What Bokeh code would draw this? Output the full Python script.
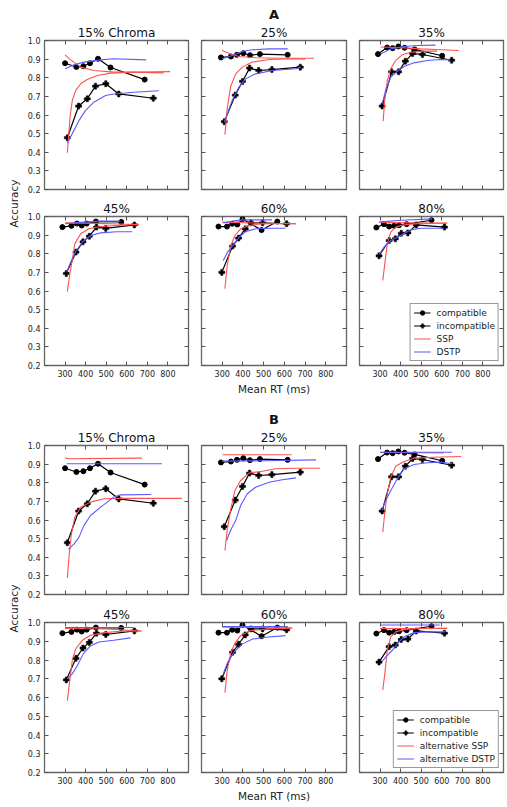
import math
from bokeh.plotting import figure
from bokeh.layouts import row, column
from bokeh.models import (Range1d, FixedTicker, LinearAxis, Title, Legend,
                          LegendItem, CustomJSTickFormatter, PrintfTickFormatter)
from bokeh.core.properties import value
from bokeh.embed import file_html
from bokeh.resources import INLINE

conditions = ["15% Chroma", "25%", "35%", "45%", "60%", "80%"]
x_ticks = [300, 400, 500, 600, 700, 800]
y_ticks = [0.2, 0.3, 0.4, 0.5, 0.6, 0.7, 0.8, 0.9, 1.0]

# observed data (same in A and B)
comp_rt = [[300, 355, 389, 421, 460, 521, 687],
           [294, 342, 371, 402, 434, 482, 616],
           [290, 334, 361, 389, 419, 468, 602],
           [287, 331, 358, 381, 405, 450, 573],
           [282, 323, 348, 373, 398, 490, 566],
           [282, 319, 344, 368, 392, 429, 550]]
comp_acc = [[0.878, 0.858, 0.862, 0.878, 0.902, 0.855, 0.790],
            [0.909, 0.914, 0.923, 0.932, 0.921, 0.927, 0.923],
            [0.927, 0.962, 0.959, 0.968, 0.961, 0.952, 0.918],
            [0.943, 0.950, 0.962, 0.952, 0.962, 0.973, 0.971],
            [0.946, 0.946, 0.961, 0.957, 0.986, 0.927, 0.973],
            [0.941, 0.959, 0.946, 0.950, 0.953, 0.959, 0.980]]
inc_rt = [[311, 366, 408, 448, 498, 561, 729],
          [310, 363, 398, 432, 476, 540, 677],
          [310, 356, 390, 423, 458, 506, 648],
          [306, 353, 387, 418, 453, 498, 637],
          [298, 350, 379, 411, 439, 495, 611],
          [295, 344, 374, 403, 435, 476, 613]]
inc_acc = [[0.478, 0.648, 0.687, 0.755, 0.768, 0.713, 0.690],
           [0.564, 0.707, 0.780, 0.852, 0.839, 0.844, 0.857],
           [0.648, 0.832, 0.832, 0.889, 0.930, 0.925, 0.894],
           [0.694, 0.809, 0.864, 0.894, 0.943, 0.936, 0.955],
           [0.700, 0.841, 0.884, 0.934, 0.966, 0.966, 0.961],
           [0.789, 0.871, 0.880, 0.910, 0.912, 0.955, 0.943]]

# panel A models
ssp_comp_rt = [[300, 327, 376, 440, 537, 666, 811],
               [300, 340, 381, 461, 574, 743],
               [303, 400, 500, 600, 682],
               [300, 450, 600, 658],
               [300, 450, 656],
               [300, 450, 626]]
ssp_comp_acc = [[0.923, 0.896, 0.857, 0.839, 0.830, 0.830, 0.833],
                [0.946, 0.928, 0.914, 0.907, 0.905, 0.905],
                [0.965, 0.962, 0.955, 0.950, 0.946],
                [0.966, 0.963, 0.958, 0.955],
                [0.970, 0.965, 0.961],
                [0.968, 0.966, 0.965]]
ssp_inc_rt = [[311, 316, 324, 335, 352, 376, 408, 456, 521, 634, 779],
              [313, 324, 340, 365, 397, 445, 526, 655, 700],
              [315, 324, 335, 352, 376, 408, 448, 513, 577],
              [311, 323, 335, 347, 376, 416, 473, 569, 658],
              [313, 324, 340, 361, 389, 429, 495, 656],
              [313, 323, 335, 352, 376, 416, 481, 626]]
ssp_inc_acc = [[0.397, 0.463, 0.589, 0.678, 0.732, 0.768, 0.791, 0.812, 0.825, 0.830, 0.826],
               [0.494, 0.633, 0.750, 0.821, 0.857, 0.884, 0.898, 0.902, 0.900],
               [0.567, 0.696, 0.785, 0.848, 0.893, 0.923, 0.937, 0.943, 0.943],
               [0.597, 0.692, 0.764, 0.853, 0.907, 0.934, 0.946, 0.953, 0.957],
               [0.612, 0.737, 0.835, 0.898, 0.934, 0.952, 0.961, 0.961],
               [0.657, 0.746, 0.853, 0.916, 0.943, 0.955, 0.961, 0.964]]
dstp_comp_rt = [[300, 344, 392, 473, 537, 694],
                [300, 348, 397, 445, 526, 616],
                [303, 352, 416, 481, 569],
                [300, 392, 473, 569],
                [305, 350, 400, 540],
                [295, 400, 553]]
dstp_comp_acc = [[0.848, 0.870, 0.884, 0.896, 0.902, 0.896],
                 [0.902, 0.920, 0.941, 0.950, 0.955, 0.955],
                 [0.928, 0.955, 0.968, 0.973, 0.975],
                 [0.961, 0.970, 0.975, 0.975],
                 [0.965, 0.975, 0.982, 0.982],
                 [0.970, 0.980, 0.987]]
dstp_inc_rt = [[311, 335, 368, 400, 440, 497, 537, 634, 755],
               [310, 348, 381, 413, 461, 542, 655, 680],
               [310, 327, 352, 384, 416, 465, 529, 594, 642],
               [308, 327, 352, 384, 424, 473, 553, 626],
               [305, 326, 350, 382, 415, 463, 544, 605],
               [295, 319, 352, 400, 448, 497, 610]]
dstp_inc_acc = [[0.450, 0.500, 0.571, 0.625, 0.669, 0.705, 0.713, 0.722, 0.730],
                [0.562, 0.678, 0.750, 0.794, 0.821, 0.839, 0.848, 0.857],
                [0.660, 0.732, 0.803, 0.835, 0.860, 0.880, 0.893, 0.898, 0.896],
                [0.701, 0.755, 0.812, 0.862, 0.898, 0.912, 0.918, 0.918],
                [0.764, 0.809, 0.844, 0.889, 0.920, 0.934, 0.937, 0.937],
                [0.796, 0.835, 0.871, 0.898, 0.928, 0.937, 0.937]]

# panel B alternative models
alt_ssp_comp_rt = [[300, 319, 674], [302, 635], [300, 610], [300, 500, 671], [300, 632], [300, 626]]
alt_ssp_comp_acc = [[0.934, 0.929, 0.932], [0.950, 0.950], [0.964, 0.960],
                    [0.968, 0.965, 0.955], [0.975, 0.972], [0.968, 0.968]]
alt_ssp_inc_rt = [[311, 319, 331, 347, 376, 424, 489, 569, 868],
                  [313, 324, 340, 361, 389, 429, 494, 558, 655, 772],
                  [313, 324, 335, 352, 376, 416, 465, 561, 694],
                  [311, 323, 335, 352, 384, 424, 489, 569, 671],
                  [313, 324, 340, 361, 389, 437, 526, 639],
                  [313, 323, 335, 352, 376, 416, 481, 626]]
alt_ssp_inc_acc = [[0.290, 0.400, 0.526, 0.615, 0.669, 0.696, 0.714, 0.716, 0.716],
                   [0.436, 0.544, 0.651, 0.758, 0.812, 0.852, 0.862, 0.875, 0.878, 0.878],
                   [0.535, 0.651, 0.741, 0.830, 0.889, 0.914, 0.932, 0.937, 0.941],
                   [0.583, 0.690, 0.798, 0.860, 0.905, 0.932, 0.946, 0.953, 0.955],
                   [0.626, 0.742, 0.832, 0.889, 0.930, 0.957, 0.966, 0.970],
                   [0.640, 0.726, 0.851, 0.923, 0.950, 0.962, 0.968, 0.971]]
alt_dstp_comp_rt = [[308, 771], [300, 500, 753], [300, 650], [300, 634], [300, 606], [300, 590]]
alt_dstp_comp_acc = [[0.902, 0.902], [0.916, 0.918, 0.923], [0.964, 0.964],
                     [0.973, 0.973], [0.979, 0.979], [0.987, 0.987]]
alt_dstp_inc_rt = [[316, 344, 368, 392, 424, 473, 537, 569, 719],
                   [321, 340, 365, 389, 421, 461, 526, 590, 656],
                   [308, 327, 352, 384, 416, 465, 529, 594, 650],
                   [311, 335, 360, 389, 421, 465, 537, 618],
                   [305, 326, 356, 398, 447, 511, 605],
                   [311, 335, 360, 384, 416, 465, 529, 618]]
alt_dstp_inc_acc = [[0.442, 0.472, 0.508, 0.571, 0.624, 0.669, 0.723, 0.735, 0.737],
                    [0.490, 0.544, 0.597, 0.678, 0.741, 0.776, 0.803, 0.816, 0.826],
                    [0.651, 0.705, 0.758, 0.821, 0.875, 0.898, 0.907, 0.911, 0.902],
                    [0.700, 0.726, 0.771, 0.834, 0.873, 0.896, 0.905, 0.918],
                    [0.725, 0.787, 0.841, 0.886, 0.912, 0.921, 0.930],
                    [0.794, 0.825, 0.852, 0.887, 0.923, 0.946, 0.950, 0.950]]

panel_labels = ["A", "B"]
legend_labels = [["compatible", "incompatible", "SSP", "DSTP"],
                 ["compatible", "incompatible", "alternative SSP", "alternative DSTP"]]

FONT = "DejaVu Sans"
GRAY = "#555555"
RED = "#ff5050"
BLUE = "#5a5aff"


def add_axis(p, side, labels, axis_label=None):
    horiz = side in ("below", "above")
    ticks = x_ticks if horiz else y_ticks
    ax = LinearAxis(ticker=FixedTicker(ticks=ticks))
    ax.axis_line_color = None
    ax.major_tick_in = 4
    ax.major_tick_out = 0
    ax.minor_tick_line_color = None
    ax.major_tick_line_color = GRAY
    ax.major_label_text_font = FONT
    ax.major_label_text_color = "#222222"
    if labels:
        ax.formatter = PrintfTickFormatter(format="%d" if horiz else "%.1f")
        ax.major_label_text_font_size = "8px"
        ax.major_label_standoff = 4
    else:
        ax.formatter = CustomJSTickFormatter(code="return ''")
        ax.major_label_text_font_size = "0px"
        ax.major_label_standoff = 0
    if axis_label:
        ax.axis_label = axis_label
        ax.axis_label_text_font = FONT
        ax.axis_label_text_font_size = "10.5px"
        ax.axis_label_text_font_style = "normal"
        ax.axis_label_text_color = "#222222"
        ax.axis_label_standoff = 3
    p.add_layout(ax, side)


def make_fig(panel, r, col):
    ci = r * 3 + col
    mbl = [22, 7, 7][col]
    mbr = [6, 6, 4][col]
    fw = [144, 145, 144][col]
    if panel == 0:
        mbt, fh, mbb = (40, 149, 5) if r == 0 else (22, 149, 35)
    else:
        mbt, fh, mbb = (45, 149, 5) if r == 0 else (23, 150, 35)
    p = figure(width=mbl + fw + mbr, height=mbt + fh + mbb,
               min_border_left=mbl, min_border_right=mbr,
               min_border_top=mbt, min_border_bottom=mbb,
               x_range=Range1d(200, 900), y_range=Range1d(0.2, 1.0),
               x_axis_type=None, y_axis_type=None, title=None,
               output_backend="svg", toolbar_location=None)
    p.outline_line_color = "#666666"
    p.outline_line_width = 1.3
    p.background_fill_color = "white"
    p.border_fill_color = "white"

    add_axis(p, "below", r == 1, "Mean RT (ms)" if (r == 1 and col == 1) else None)
    add_axis(p, "left", col == 0)
    add_axis(p, "above", False)
    add_axis(p, "right", False)

    p.add_layout(Title(text=conditions[ci], align="center", text_font=FONT,
                       text_font_size="12px", text_font_style="normal",
                       text_color="#111111", standoff=2), "above")
    if r == 0 and col == 1:
        p.add_layout(Title(text=panel_labels[panel], align="center", text_font=FONT,
                           text_font_size="13px", text_font_style="bold",
                           text_color="#111111", standoff=2), "above")

    lc = p.line(comp_rt[ci], comp_acc[ci], line_color="black", line_width=1.2)
    sc = p.scatter(comp_rt[ci], comp_acc[ci], marker="circle", size=5,
                   fill_color="black", line_color="black")
    li = p.line(inc_rt[ci], inc_acc[ci], line_color="black", line_width=1.2)
    si = p.scatter(inc_rt[ci], inc_acc[ci], marker="plus", size=6,
                   fill_color="black", line_color="black", line_width=0.5)

    if panel == 0:
        s1 = (ssp_comp_rt, ssp_comp_acc, ssp_inc_rt, ssp_inc_acc)
        d1 = (dstp_comp_rt, dstp_comp_acc, dstp_inc_rt, dstp_inc_acc)
    else:
        s1 = (alt_ssp_comp_rt, alt_ssp_comp_acc, alt_ssp_inc_rt, alt_ssp_inc_acc)
        d1 = (alt_dstp_comp_rt, alt_dstp_comp_acc, alt_dstp_inc_rt, alt_dstp_inc_acc)
    rs = p.line(s1[0][ci], s1[1][ci], line_color=RED, line_width=1.1)
    p.line(s1[2][ci], s1[3][ci], line_color=RED, line_width=1.1)
    rd = p.line(d1[0][ci], d1[1][ci], line_color=BLUE, line_width=1.1)
    p.line(d1[2][ci], d1[3][ci], line_color=BLUE, line_width=1.1)

    if r == 1 and col == 2:
        labs = legend_labels[panel]
        lg = Legend(items=[LegendItem(label=labs[0], renderers=[lc, sc]),
                           LegendItem(label=labs[1], renderers=[li, si]),
                           LegendItem(label=labs[2], renderers=[rs]),
                           LegendItem(label=labs[3], renderers=[rd])],
                    location="bottom_right")
        lg.label_text_font = FONT
        lg.label_text_font_size = "9px"
        lg.label_text_color = "#222222"
        lg.glyph_width = 17
        lg.glyph_height = 11
        lg.label_height = 11
        lg.label_standoff = 6
        lg.spacing = 2
        lg.padding = 3
        lg.margin = 4
        lg.border_line_color = "#333333"
        lg.border_line_width = 1
        lg.background_fill_color = "white"
        lg.background_fill_alpha = 1.0
        p.add_layout(lg)
    return p


rows_ = []
for panel in range(2):
    for r in range(2):
        rows_.append(row(*[make_fig(panel, r, c) for c in range(3)]))

strip = figure(width=22, height=807, x_range=Range1d(0, 22), y_range=Range1d(807, 0),
               x_axis_type=None, y_axis_type=None, min_border=0,
               output_backend="svg", toolbar_location=None)
strip.outline_line_color = None
strip.text(x=[13, 13], y=[203, 608], text=["Accuracy", "Accuracy"], angle=math.pi / 2,
           text_font=value(FONT), text_font_size="10.5px", text_color="#222222",
           text_align="center", text_baseline="middle")

layout = row(strip, column(*rows_))
open("out.html", "w").write(file_html(layout, INLINE))
